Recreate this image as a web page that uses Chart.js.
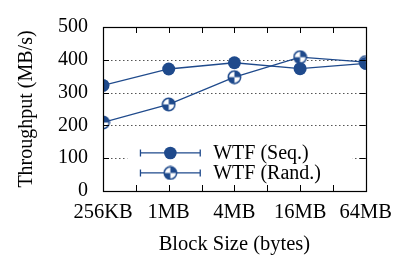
<!DOCTYPE html>
<html>
<head>
<meta charset="utf-8">
<script src="https://cdn.jsdelivr.net/npm/chart.js@4"></script>
<style>
  html, body { margin: 0; padding: 0; background: #fff; }
  #wrap { width: 401px; height: 256px; }
</style>
</head>
<body>
<div id="wrap"><canvas id="tput"></canvas></div>
<script>
// values
blockSizes = ['256KB', '1MB', '4MB', '16MB', '64MB']
seqVals = [322, 372, 391, 373, 389]
randVals = [209, 264, 347, 408, 393]
yTicks = [0, 100, 200, 300, 400, 500]

blue = '#1f4a8c'
serif = '"Liberation Serif", "DejaVu Serif", serif'

// half filled marker for the random series
function pieMarker() {
  var c = document.createElement('canvas');
  c.width = 15; c.height = 15;
  var g = c.getContext('2d');
  var r = 6.2, cx = 7.5, cy = 7.5;
  g.fillStyle = '#fff';
  g.beginPath(); g.arc(cx, cy, r, 0, Math.PI * 2); g.fill();
  g.fillStyle = blue;
  g.beginPath(); g.moveTo(cx, cy); g.arc(cx, cy, r, -Math.PI / 2, 0); g.closePath(); g.fill();
  g.beginPath(); g.moveTo(cx, cy); g.arc(cx, cy, r, Math.PI / 2, Math.PI); g.closePath(); g.fill();
  g.strokeStyle = blue; g.lineWidth = 1.5;
  g.beginPath(); g.arc(cx, cy, r, 0, Math.PI * 2); g.stroke();
  return c;
}
randMarker = pieMarker()

function toPts(vals) {
  return vals.map(function(v, i) { return {x: i, y: v}; });
}

// dotted grid, frame, inward ticks and the boxed legend
framePlugin = {
  id: 'frame',
  beforeDatasetsDraw: function(chart) {
    var ctx = chart.ctx, a = chart.chartArea;
    var xs = chart.scales.x, ys = chart.scales.y;
    ctx.save();
    ctx.strokeStyle = '#555';
    ctx.lineWidth = 1;
    ctx.setLineDash([1.5, 2.5]);
    ctx.beginPath();
    ys.ticks.forEach(function(t) {
      if (t.value === 0 || t.value === 500) return;
      var py = Math.round(ys.getPixelForValue(t.value)) + 0.5;
      ctx.moveTo(a.left, py); ctx.lineTo(a.right, py);
    });
    ctx.stroke();
    ctx.setLineDash([]);
    ctx.fillStyle = '#fff';
    var lx = xs.getPixelForValue(0.37), rx = xs.getPixelForValue(3.8);
    ctx.fillRect(lx, a.top + (a.bottom - a.top) * 0.68, rx - lx, (a.bottom - a.top) * 0.32 - 1);
    ctx.restore();
  },
  afterDraw: function(chart) {
    var ctx = chart.ctx, a = chart.chartArea;
    var xs = chart.scales.x, ys = chart.scales.y;
    ctx.save();
    ctx.strokeStyle = '#000';
    ctx.lineWidth = 1;
    ctx.beginPath();
    xs.ticks.forEach(function(t) {
      var px = Math.round(xs.getPixelForValue(t.value)) + 0.5;
      ctx.moveTo(px, a.bottom); ctx.lineTo(px, a.bottom - 6);
      ctx.moveTo(px, a.top); ctx.lineTo(px, a.top + 6);
    });
    ys.ticks.forEach(function(t) {
      var py = Math.round(ys.getPixelForValue(t.value)) + 0.5;
      ctx.moveTo(a.left, py); ctx.lineTo(a.left + 6, py);
      ctx.moveTo(a.right, py); ctx.lineTo(a.right - 6, py);
    });
    ctx.stroke();
    ctx.lineWidth = 1.2;
    ctx.strokeRect(Math.round(a.left) + 0.5, Math.round(a.top) + 0.5,
      Math.round(a.right - a.left), Math.round(a.bottom - a.top));

    // legend
    var items = [
      {label: 'WTF (Seq.)', marker: 'circle'},
      {label: 'WTF (Rand.)', marker: randMarker}
    ];
    var x0 = xs.getPixelForValue(0.57), x1 = xs.getPixelForValue(1.48);
    var xm = (x0 + x1) / 2;
    items.forEach(function(it, k) {
      var y = ys.getPixelForValue(116 - k * 61);
      ctx.strokeStyle = blue; ctx.lineWidth = 1.3;
      ctx.beginPath();
      ctx.moveTo(x0, y); ctx.lineTo(x1, y);
      ctx.moveTo(x0, y - 3.5); ctx.lineTo(x0, y + 3.5);
      ctx.moveTo(x1, y - 3.5); ctx.lineTo(x1, y + 3.5);
      ctx.stroke();
      if (it.marker === 'circle') {
        ctx.fillStyle = blue;
        ctx.beginPath(); ctx.arc(xm, y, 6.3, 0, Math.PI * 2); ctx.fill();
      } else {
        ctx.drawImage(it.marker, xm - 7.5, y - 7.5);
      }
      ctx.fillStyle = '#000';
      ctx.font = '20px ' + serif;
      ctx.textBaseline = 'middle';
      ctx.textAlign = 'left';
      ctx.fillText(it.label, x1 + 13, y + 1);
    });
    ctx.restore();
  }
}

chartdata = {
  datasets: [{
    label: 'WTF (Seq.)',
    data: toPts(seqVals),
    borderColor: blue,
    backgroundColor: blue,
    borderWidth: 1.3,
    pointStyle: 'circle',
    pointRadius: 6.5,
    pointBorderWidth: 0,
    tension: 0,
    order: 0
  }, {
    label: 'WTF (Rand.)',
    data: toPts(randVals),
    borderColor: blue,
    backgroundColor: blue,
    borderWidth: 1.3,
    pointStyle: randMarker,
    tension: 0,
    order: 1
  }]
};

config = {
  type: 'line',
  data: chartdata,
  options: {
    responsive: true,
    maintainAspectRatio: false,
    animation: false,
    layout: { padding: { top: 15, right: 35, left: 0, bottom: 0 } },
    plugins: { legend: { display: false }, tooltip: { enabled: false } },
    scales: {
      x: {
        type: 'linear',
        min: 0, max: 4,
        afterBuildTicks: function(s) {
          var t = [];
          for (var i = 0; i <= 8; i++) t.push({value: i / 2});
          s.ticks = t;
        },
        afterFit: function(s) { s.height = 65; },
        grid: { display: false, drawTicks: false },
        border: { display: false },
        ticks: {
          autoSkip: false, maxRotation: 0, padding: 9,
          color: '#000',
          font: { family: serif, size: 20.5 },
          callback: function(v) { return Number.isInteger(v) ? blockSizes[v] : ''; }
        },
        title: {
          display: true, text: 'Block Size (bytes)', color: '#000',
          font: { family: serif, size: 20.5, lineHeight: 1 },
          padding: { top: 0, bottom: 1 }
        }
      },
      y: {
        min: 0, max: 500,
        afterBuildTicks: function(s) {
          s.ticks = yTicks.map(function(v) { return {value: v}; });
        },
        afterFit: function(s) { s.width = 103; },
        grid: { display: false, drawTicks: false },
        border: { display: false },
        ticks: {
          padding: 15, color: '#000',
          font: { family: serif, size: 20 }
        },
        title: {
          display: true, text: 'Throughput (MB/s)', color: '#000',
          font: { family: serif, size: 20, lineHeight: 1.2 },
          padding: { top: 15, bottom: 0 }
        }
      }
    }
  },
  plugins: [framePlugin]
};

var myChart = new Chart(document.getElementById('tput'), config);
</script>
</body>
</html>
